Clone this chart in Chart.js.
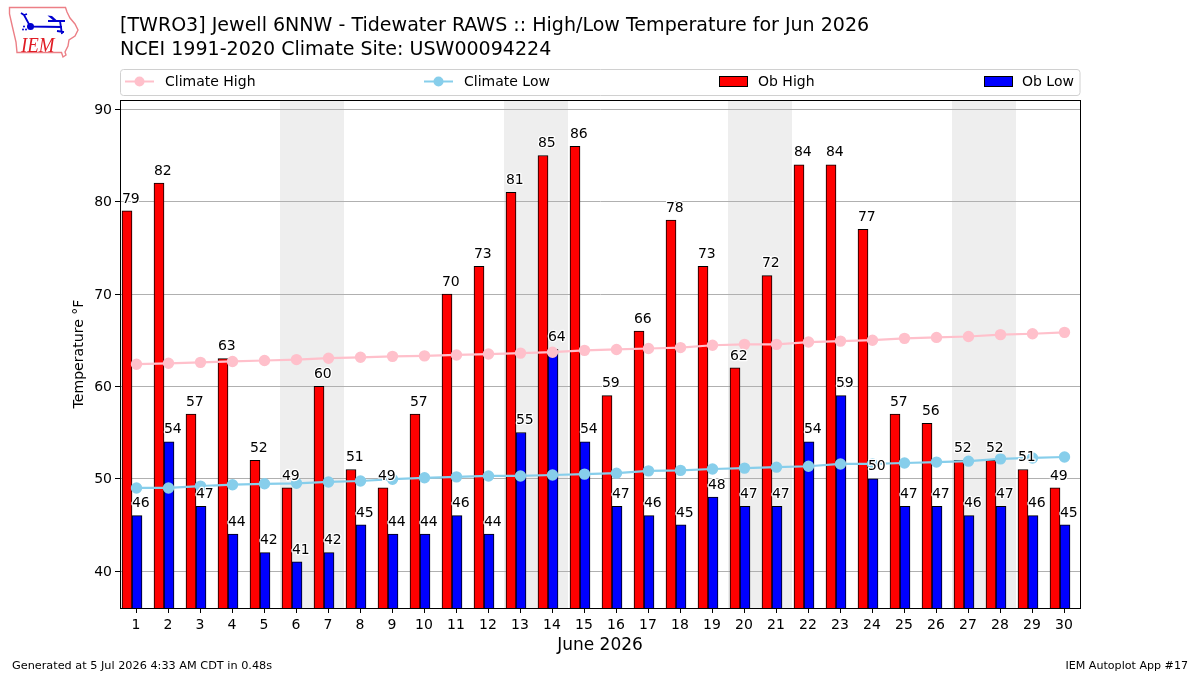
<!DOCTYPE html>
<html lang="en">
<head>
    <meta charset="UTF-8">
    <title>High/Low Temperature for Jun 2026</title>
    <script src="https://cdnjs.cloudflare.com/ajax/libs/Chart.js/4.4.1/chart.umd.min.js"></script>
    <style>
        body { margin: 0; background: #fff; }
        canvas { display: block; }
    </style>
</head>
<body>
    <canvas id="tempChart" width="1200" height="675"></canvas>

    <script>
        const days = [1, 2, 3, 4, 5, 6, 7, 8, 9, 10, 11, 12, 13, 14, 15, 16, 17, 18, 19, 20, 21, 22, 23, 24, 25, 26, 27, 28, 29, 30];
        const obHigh = [79, 82, 57, 63, 52, 49, 60, 51, 49, 57, 70, 73, 81, 85, 86, 59, 66, 78, 73, 62, 72, 84, 84, 77, 57, 56, 52, 52, 51, 49];
        const obLow = [46, 54, 47, 44, 42, 41, 42, 45, 44, 44, 46, 44, 55, 64, 54, 47, 46, 45, 48, 47, 47, 54, 59, 50, 47, 47, 46, 47, 46, 45];
        const climateHigh = [62.4, 62.5, 62.6, 62.7, 62.8, 62.9, 63.05, 63.15, 63.25, 63.3, 63.4, 63.5, 63.6, 63.7, 63.9, 64.0, 64.1, 64.2, 64.45, 64.55, 64.55, 64.8, 64.9, 65.0, 65.2, 65.3, 65.4, 65.6, 65.7, 65.85];
        const climateLow = [49.0, 49.0, 49.2, 49.35, 49.45, 49.5, 49.65, 49.75, 49.95, 50.1, 50.2, 50.3, 50.3, 50.4, 50.5, 50.6, 50.85, 50.9, 51.05, 51.15, 51.25, 51.35, 51.6, 51.6, 51.7, 51.8, 51.9, 52.15, 52.25, 52.35];
        const weekendDays = [6, 7, 13, 14, 20, 21, 27, 28];
        const yTickValues = [40, 50, 60, 70, 80, 90];

        const titleLines = [
            '[TWRO3] Jewell 6NNW - Tidewater RAWS :: High/Low Temperature for Jun 2026',
            'NCEI 1991-2020 Climate Site: USW00094224'
        ];
        const footerLeft = 'Generated at 5 Jul 2026 4:33 AM CDT in 0.48s';
        const footerRight = 'IEM Autoplot App #17';

        const FONT = '"DejaVu Sans", sans-serif';

        // shaded weekend columns, underneath the grid
        const bandsPlugin = {
            id: 'bands',
            beforeDraw(chart) {
                const { ctx, chartArea, scales } = chart;
                const half = (scales.x.getPixelForValue(1) - scales.x.getPixelForValue(0)) / 2;
                ctx.save();
                ctx.fillStyle = '#eeeeee';
                weekendDays.forEach(d => {
                    const x = scales.x.getPixelForValue(days.indexOf(d));
                    ctx.fillRect(x - half, chartArea.top, half * 2, chartArea.bottom - chartArea.top);
                });
                ctx.restore();
            }
        };

        // small horizontal nudge for the marks, bars sit a pixel right of the slot centres
        const nudgePlugin = {
            id: 'nudge',
            beforeDatasetDraw(chart, args) {
                chart.ctx.save();
                chart.ctx.translate(args.meta.type === 'bar' ? 1 : 0.5, 0);
            },
            afterDatasetDraw(chart) {
                chart.ctx.restore();
            }
        };

        // value text above each bar, white halo so it stays legible over the lines
        const barLabelsPlugin = {
            id: 'barLabels',
            afterDatasetsDraw(chart) {
                const { ctx } = chart;
                ctx.save();
                ctx.font = '14px ' + FONT;
                ctx.textAlign = 'center';
                ctx.textBaseline = 'alphabetic';
                ctx.lineJoin = 'round';
                ctx.fillStyle = '#000';
                ctx.strokeStyle = '#fff';
                ctx.lineWidth = 2.5;
                chart.data.datasets.forEach((ds, i) => {
                    if (ds.type !== 'bar' || !ds.data.length) return;
                    chart.getDatasetMeta(i).data.forEach((bar, j) => {
                        const x = bar.x + 4.8;
                        const y = bar.y - 8.3;
                        ctx.strokeText(ds.data[j], x, y);
                        ctx.fillText(ds.data[j], x, y);
                    });
                });
                ctx.restore();
            }
        };

        function drawLogo(ctx) {
            ctx.save();
            // state outline
            ctx.strokeStyle = '#ec7f86';
            ctx.lineWidth = 1.4;
            ctx.beginPath();
            ctx.moveTo(9.5, 7.5);
            ctx.lineTo(65.5, 7.5);
            ctx.lineTo(67, 12);
            ctx.lineTo(70, 18);
            ctx.lineTo(75, 24);
            ctx.lineTo(78, 30);
            ctx.lineTo(75, 36);
            ctx.lineTo(69, 40);
            ctx.lineTo(68, 46);
            ctx.lineTo(65, 52);
            ctx.lineTo(66, 55);
            ctx.lineTo(63, 57);
            ctx.lineTo(61.5, 52.5);
            ctx.lineTo(17, 52.5);
            ctx.lineTo(16, 42);
            ctx.lineTo(12, 25);
            ctx.lineTo(9.5, 14);
            ctx.closePath();
            ctx.stroke();

            // station symbol
            ctx.strokeStyle = '#0000d0';
            ctx.fillStyle = '#0000d0';
            ctx.lineWidth = 1.8;
            ctx.beginPath();
            ctx.moveTo(30, 26.5);
            ctx.lineTo(62, 27);
            ctx.moveTo(30, 26);
            ctx.lineTo(24, 15);
            ctx.moveTo(24, 15);
            ctx.lineTo(21, 13);
            ctx.moveTo(24, 15);
            ctx.lineTo(27, 14);
            ctx.moveTo(48, 21);
            ctx.lineTo(65, 21);
            ctx.moveTo(60, 21);
            ctx.lineTo(62, 34);
            ctx.moveTo(57, 31);
            ctx.lineTo(64, 32);
            ctx.stroke();
            ctx.beginPath();
            ctx.arc(30.5, 26.5, 3.5, 0, Math.PI * 2);
            ctx.fill();
            ctx.beginPath();
            ctx.moveTo(47.5, 15.5);
            ctx.lineTo(52, 16);
            ctx.lineTo(57.5, 21);
            ctx.lineTo(54, 21);
            ctx.closePath();
            ctx.fill();
            [[24, 26.5], [23, 29.5], [26, 29.5]].forEach(p => {
                ctx.beginPath();
                ctx.arc(p[0], p[1], 1, 0, Math.PI * 2);
                ctx.fill();
            });

            ctx.fillStyle = '#e01c24';
            ctx.font = 'italic 22px "Liberation Serif", serif';
            ctx.textAlign = 'left';
            ctx.translate(21, 52);
            ctx.scale(0.86, 1);
            ctx.fillText('IEM', 0, 0);
            ctx.restore();
        }

        // title block, logo, legend row, footers and the box around the axes
        const decorPlugin = {
            id: 'decor',
            afterDraw(chart) {
                const { ctx, chartArea } = chart;
                ctx.save();

                ctx.strokeStyle = '#000';
                ctx.lineWidth = 1;
                ctx.strokeRect(chartArea.left + 0.5, chartArea.top + 0.5, chartArea.right - chartArea.left, chartArea.bottom - chartArea.top);

                drawLogo(ctx);

                ctx.fillStyle = '#000';
                ctx.textBaseline = 'alphabetic';
                ctx.textAlign = 'left';
                ctx.font = '19.06px ' + FONT;
                ctx.fillText(titleLines[0], 120, 31);
                ctx.fillText(titleLines[1], 120, 55);

                ctx.font = '11.27px ' + FONT;
                ctx.fillText(footerLeft, 12, 669);
                ctx.font = '11.1px ' + FONT;
                ctx.textAlign = 'right';
                ctx.fillText(footerRight, 1188, 669);

                // legend frame
                ctx.strokeStyle = '#d0d0d0';
                ctx.beginPath();
                ctx.roundRect(120.5, 69.5, 959.5, 26, 3);
                ctx.stroke();

                const slots = [125, 424, 719, 984];
                const textSlots = [165, 464, 758, 1022];
                ctx.font = '14px ' + FONT;
                ctx.textAlign = 'left';
                chart.data.datasets.slice(0, 4).forEach((ds, i) => {
                    const x = slots[i];
                    if (ds.type === 'line') {
                        ctx.strokeStyle = ds.borderColor;
                        ctx.lineWidth = 2;
                        ctx.beginPath();
                        ctx.moveTo(x, 81.5);
                        ctx.lineTo(x + 29, 81.5);
                        ctx.stroke();
                        ctx.fillStyle = ds.borderColor;
                        ctx.beginPath();
                        ctx.arc(x + 14.5, 81.5, 5, 0, Math.PI * 2);
                        ctx.fill();
                    } else {
                        ctx.fillStyle = ds.backgroundColor;
                        ctx.strokeStyle = '#000';
                        ctx.lineWidth = 1;
                        ctx.fillRect(x + 0.5, 76.5, 28, 10);
                        ctx.strokeRect(x + 0.5, 76.5, 28, 10);
                    }
                    ctx.fillStyle = '#000';
                    ctx.fillText(ds.label, textSlots[i], 86);
                });
                ctx.restore();
            }
        };

        new Chart(document.getElementById('tempChart').getContext('2d'), {
            type: 'bar',
            data: {
                labels: days,
                datasets: [
                    { type: 'line', label: 'Climate High', data: climateHigh, borderColor: '#ffc0cb', backgroundColor: '#ffc0cb', borderWidth: 2.2, pointRadius: 4.6, tension: 0, order: 0 },
                    { type: 'line', label: 'Climate Low', data: climateLow, borderColor: '#87ceeb', backgroundColor: '#87ceeb', borderWidth: 2.2, pointRadius: 4.6, tension: 0, order: 0 },
                    { type: 'bar', label: 'Ob High', data: obHigh, backgroundColor: '#ff0000', borderColor: '#000', borderWidth: 1, barThickness: 10, order: 1 },
                    { type: 'bar', label: 'Ob Low', data: obLow, backgroundColor: '#0000ff', borderColor: '#000', borderWidth: 1, barThickness: 10, order: 1 },
                    // empty third slot pushes the pair left of each tick
                    { type: 'bar', label: '', data: [], barThickness: 10, order: 1 }
                ]
            },
            options: {
                responsive: false,
                animation: false,
                layout: { padding: { left: 0, right: 120, top: 100, bottom: 0 } },
                plugins: {
                    legend: { display: false },
                    title: { display: false },
                    tooltip: { enabled: false }
                },
                scales: {
                    x: {
                        type: 'category',
                        grid: { display: true, drawOnChartArea: false, tickLength: 5, tickColor: '#000', offset: false },
                        border: { color: '#000' },
                        ticks: { color: '#000', font: { family: FONT, size: 14 }, autoSkip: false, maxRotation: 0, padding: 4 },
                        title: { display: true, text: 'June 2026', color: '#000', font: { family: FONT, size: 17 }, padding: { top: 0, bottom: 19 } },
                        afterFit(scale) { scale.height = 67; }
                    },
                    y: {
                        type: 'linear',
                        min: 36.0,
                        max: 91.01,
                        grid: { color: '#b0b0b0', tickColor: '#000', tickLength: 5 },
                        border: { color: '#000' },
                        ticks: { color: '#000', font: { family: FONT, size: 14 }, padding: 3, labelOffset: 1 },
                        afterBuildTicks(scale) { scale.ticks = yTickValues.map(v => ({ value: v })); },
                        title: { display: true, text: 'Temperature °F', color: '#000', font: { family: FONT, size: 14.1 }, padding: { top: 71, bottom: 0 } },
                        afterFit(scale) { scale.width = 120; }
                    }
                }
            },
            plugins: [bandsPlugin, nudgePlugin, barLabelsPlugin, decorPlugin]
        });
    </script>
</body>
</html>
